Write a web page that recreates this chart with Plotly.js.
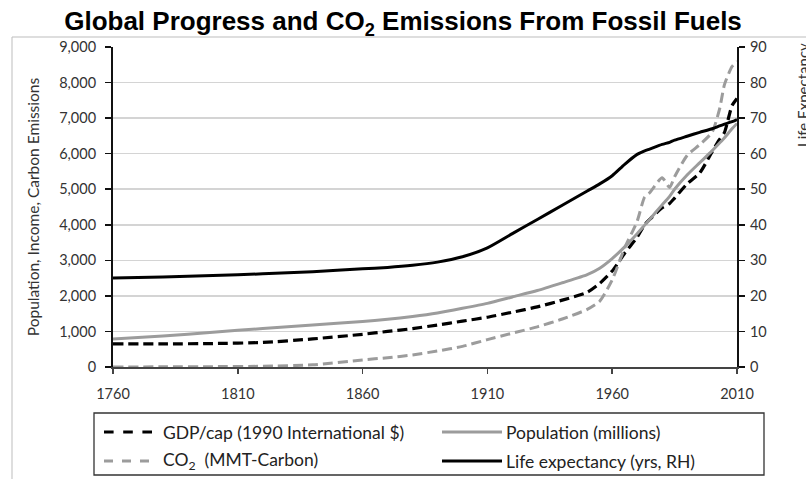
<!DOCTYPE html>
<html>
<head>
<meta charset="utf-8">
<script src="https://cdn.plot.ly/plotly-3.0.1.min.js"></script>
<style>
html,body{margin:0;padding:0;background:#fff;}
#chart{width:806px;height:479px;}
</style>
</head>
<body>
<div id="chart"></div>
<script>
// ---- Data ----
const years = [1760,1780,1800,1820,1840,1860,1870,1880,1890,1900,1910,1920,1930,1940,1950,1955,1960,1965,1970,1973,1975,1980,1983,1985,1990,1995,2000,2003,2005,2008,2010];
const gdpPerCap = [650,650,660,690,790,920,1000,1080,1180,1290,1400,1540,1690,1880,2100,2350,2700,3200,3650,4000,4150,4480,4600,4750,5150,5450,6050,6400,6600,7350,7550];
const population = [790,870,980,1080,1180,1280,1340,1420,1520,1650,1790,1970,2150,2370,2600,2780,3050,3380,3750,3990,4150,4560,4800,5000,5400,5740,6080,6300,6450,6700,6850];
const co2Emissions = [0,5,10,20,60,200,260,340,450,580,770,950,1130,1350,1620,1850,2450,3350,4100,4780,4900,5320,5050,5350,5950,6250,6600,7250,7950,8450,8600];
const lifeExpectancy = [25,25.3,25.7,26.2,26.8,27.6,28,28.6,29.5,31,33.5,37.5,41.5,45.5,49.5,51.5,53.8,57,59.8,60.8,61.3,62.6,63.2,63.8,64.9,66,67,67.8,68.3,69,69.6];

const seriesNames = ["GDP/cap (1990 International $)", "Population (millions)", "CO<sub>2</sub>\u00a0 (MMT-Carbon)", "Life expectancy (yrs, RH)"];
const xTickVals = [1760,1810,1860,1910,1960,2010];
const leftTickVals = [0,1000,2000,3000,4000,5000,6000,7000,8000,9000];
const rightTickVals = [0,10,20,30,40,50,60,70,80,90];

// ---- Layout geometry (pixels) ----
const W = 806, H = 479, PL = 113, PR = 737, PT = 47, PB = 367;
const px = x => (x - PL) / (PR - PL);
const py = y => (PB - y) / (PB - PT);

const FONT = "Lato, 'Open Sans', sans-serif";
const TXT = "#333";
const GRAY = "#9c9c9c";

const traces = [
  {x: years, y: gdpPerCap, name: seriesNames[0], type: "scatter", mode: "lines",
   line: {color: "#000", width: 3.2, dash: "10px,5px", shape: "spline", smoothing: 0.6}},
  {x: years, y: population, name: seriesNames[1], type: "scatter", mode: "lines",
   line: {color: GRAY, width: 3, shape: "spline", smoothing: 0.6}},
  {x: years, y: co2Emissions, name: seriesNames[2], type: "scatter", mode: "lines",
   line: {color: GRAY, width: 3, dash: "10px,5px", shape: "spline", smoothing: 0.6}},
  {x: years, y: lifeExpectancy, name: seriesNames[3], type: "scatter", mode: "lines", yaxis: "y2",
   line: {color: "#000", width: 3, shape: "spline", smoothing: 0.6}}
];

// manual legend (two columns, two rows)
const legendRows = [432, 461];
const legendCols = [{s0: 104, s1: 153, t: 161}, {s0: 442, s1: 502, t: 504}];
const legendStyle = [
  {color: "#000", width: 3.2, dash: "dash"},
  {color: GRAY, width: 3, dash: "solid"},
  {color: GRAY, width: 3, dash: "dash"},
  {color: "#000", width: 3, dash: "solid"}
];

const shapes = [
  // outer chart frame (left and top edges)
  {type: "line", xref: "paper", yref: "paper", x0: px(12), x1: px(12), y0: py(37), y1: py(490),
   line: {color: "#bdbdbd", width: 1}},
  {type: "line", xref: "paper", yref: "paper", x0: px(12), x1: px(820), y0: py(37), y1: py(37),
   line: {color: "#bdbdbd", width: 1}},
  // legend box
  {type: "rect", xref: "paper", yref: "paper", x0: px(94), x1: px(764), y0: py(413), y1: py(475),
   line: {color: "#333", width: 1.3}, fillcolor: "rgba(0,0,0,0)"}
];
const annotations = [];
for (let i = 0; i < seriesNames.length; i++) {
  const r = Math.floor(i / 2), c = i % 2;
  const yy = legendRows[r], col = legendCols[c];
  shapes.push({type: "line", xref: "paper", yref: "paper", x0: px(col.s0), x1: px(col.s1), y0: py(yy), y1: py(yy),
    line: {color: legendStyle[i].color, width: legendStyle[i].width, dash: legendStyle[i].dash}});
  annotations.push({xref: "paper", yref: "paper", x: px(col.t), y: py(yy), xanchor: "left", yanchor: "middle",
    showarrow: false, text: seriesNames[i], font: {family: FONT, size: 17.5, color: "#222"}});
}
// right axis title (partly outside the visible page, as in the reference)
annotations.push({xref: "paper", yref: "paper", x: px(803), y: py(95), xanchor: "center", yanchor: "middle",
  showarrow: false, textangle: -90, text: "Life Expectancy", font: {family: FONT, size: 15, color: TXT}});

const layout = {
  width: W, height: H,
  margin: {l: PL, r: W - PR, t: PT, b: H - PB, pad: 0},
  paper_bgcolor: "#fff", plot_bgcolor: "#fff",
  showlegend: false,
  title: {text: "<b>Global Progress and CO<sub>2</sub> Emissions From Fossil Fuels</b>",
    font: {family: "'Liberation Sans', Arial, sans-serif", size: 26, color: "#000"},
    x: 0.5, xref: "container", xanchor: "center", y: 1 - 21 / H, yref: "container", yanchor: "middle"},
  xaxis: {range: [1760, 2010], tickvals: xTickVals, ticktext: xTickVals.map(String),
    showgrid: false, zeroline: false, showline: true, linecolor: "#444", linewidth: 2,
    ticks: "outside", ticklen: 5, tickcolor: "#444", tickwidth: 1.5,
    ticklabelstandoff: 8, tickfont: {family: FONT, size: 14.5, color: TXT}},
  yaxis: {range: [0, 9000], tickvals: leftTickVals, ticktext: leftTickVals.map(v => v.toLocaleString("en-US")),
    showgrid: true, gridcolor: "#d4d4d4", gridwidth: 1.5, zeroline: false,
    showline: true, linecolor: "#111", linewidth: 2, ticks: "outside", ticklen: 6, tickcolor: "#111", tickwidth: 1.5,
    ticklabelstandoff: 6, tickfont: {family: FONT, size: 14.5, color: TXT}},
  yaxis2: {range: [0, 90], tickvals: rightTickVals, overlaying: "y", side: "right",
    showgrid: false, zeroline: false, showline: true, linecolor: "#111", linewidth: 2,
    ticks: "outside", ticklen: 6, tickcolor: "#111", tickwidth: 1.5,
    ticklabelstandoff: 2, tickfont: {family: FONT, size: 14.5, color: TXT}},
  shapes: shapes,
  annotations: annotations
};
layout.yaxis.title = {text: "Population, Income, Carbon Emissions", font: {family: FONT, size: 15.5, color: TXT}, standoff: 16};

Plotly.newPlot("chart", traces, layout, {displayModeBar: false, staticPlot: true});
</script>
</body>
</html>
